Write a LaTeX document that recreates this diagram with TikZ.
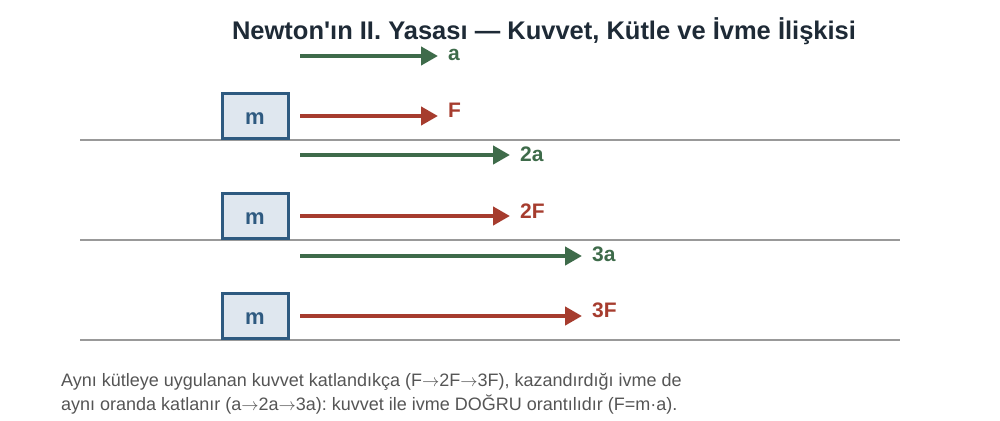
\documentclass[tikz,border=0pt]{standalone}
\usepackage{fontspec}
\setmainfont{Liberation Sans}
\newcommand{\rarr}{\ensuremath{\rightarrow}}
\frenchspacing
\usetikzlibrary{arrows.meta}
\definecolor{grn}{HTML}{3E6B4A}
\definecolor{rd}{HTML}{A63C2E}
\definecolor{bxb}{HTML}{2E5A80}
\definecolor{bxf}{HTML}{DFE7EF}
\definecolor{gnd}{HTML}{999999}
\definecolor{ttl}{HTML}{1E2A36}
\definecolor{cap}{HTML}{555555}
\begin{document}
\begin{tikzpicture}[x=1pt,y=-1pt,
  ground/.style={draw=gnd,line width=2.8pt},
  massbox/.style={draw=bxb,fill=bxf,line width=3pt,minimum width=66pt,minimum height=45pt,inner sep=0pt,text=bxb,font=\bfseries\fontsize{22}{24}\selectfont},
  farrow/.style={draw=rd,line width=4.2pt,-{Triangle[length=17pt,width=18pt]}},
  aarrow/.style={draw=grn,line width=4.2pt,-{Triangle[length=17pt,width=18pt]}},
  flab/.style={text=rd,font=\bfseries\fontsize{21}{22}\selectfont,anchor=west,inner sep=0pt},
  alab/.style={text=grn,font=\bfseries\fontsize{21}{22}\selectfont,anchor=west,inner sep=0pt},
  caption/.style={text=cap,font=\fontsize{18}{24}\selectfont,anchor=west,inner sep=0pt}]
\useasboundingbox (0,0) rectangle (1000,420);
\node[text=ttl,font=\bfseries\fontsize{25.5}{28}\selectfont] (title) at (544,31) {Newton\textquotesingle ın II. Yasası — Kuvvet, Kütle ve İvme İlişkisi};
% ground lines
\coordinate (g1l) at (80,140); \coordinate (g1r) at (900,140);
\coordinate (g2l) at (80,240); \coordinate (g2r) at (900,240);
\coordinate (g3l) at (80,340); \coordinate (g3r) at (900,340);
\draw[ground] (g1l) -- (g1r);
\draw[ground] (g2l) -- (g2r);
\draw[ground] (g3l) -- (g3r);
% boxes
\node[massbox] (m1) at (255,116) {\raisebox{-8.5pt}[0pt][0pt]{m}};
\node[massbox] (m2) at (255,216) {\raisebox{-8.5pt}[0pt][0pt]{m}};
\node[massbox] (m3) at (255,316) {\raisebox{-8.5pt}[0pt][0pt]{m}};
% row 1
\coordinate (a1s) at (300,56); \coordinate (a1e) at (438,56);
\coordinate (f1s) at (300,116); \coordinate (f1e) at (438,116);
\draw[aarrow] (a1s) -- (a1e);
\draw[farrow] (f1s) -- (f1e);
\node[alab] (la1) at (448,55) {a};
\node[flab] (lf1) at (448,110) {F};
% row 2
\coordinate (a2s) at (300,155); \coordinate (a2e) at (510,155);
\coordinate (f2s) at (300,216); \coordinate (f2e) at (510,216);
\draw[aarrow] (a2s) -- (a2e);
\draw[farrow] (f2s) -- (f2e);
\node[alab] (la2) at (520,154) {2a};
\node[flab] (lf2) at (520,211) {2F};
% row 3
\coordinate (a3s) at (300,256); \coordinate (a3e) at (582,256);
\coordinate (f3s) at (300,316); \coordinate (f3e) at (582,316);
\draw[aarrow] (a3s) -- (a3e);
\draw[farrow] (f3s) -- (f3e);
\node[alab] (la3) at (592,254) {3a};
\node[flab] (lf3) at (592,310) {3F};
% caption
\node[caption] (c1) at (61,382) {Aynı kütleye uygulanan kuvvet katlandıkça (F\rarr 2F\rarr 3F), kazandırdığı ivme de};
\node[caption] (c2) at (61,405) {aynı oranda katlanır (a\rarr 2a\rarr 3a): kuvvet ile ivme DOĞRU orantılıdır (F=m·a).};
\end{tikzpicture}
\end{document}
